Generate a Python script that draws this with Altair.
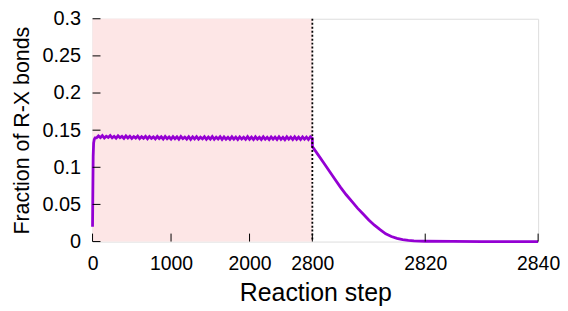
import altair as alt
import pandas as pd

# ---- data ----
early_steps = [0, 4, 8, 14, 22, 32]
early_vals = [0.020, 0.070, 0.115, 0.133, 0.1375, 0.1395]

plateau_steps = [
    50, 75, 100, 125, 150, 175, 200, 225, 250, 275,
    300, 325, 350, 375, 400, 425, 450, 475, 500, 525,
    550, 575, 600, 625, 650, 675, 700, 725, 750, 775,
    800, 825, 850, 875, 900, 925, 950, 975, 1000, 1025,
    1050, 1075, 1100, 1125, 1150, 1175, 1200, 1225, 1250, 1275,
    1300, 1325, 1350, 1375, 1400, 1425, 1450, 1475, 1500, 1525,
    1550, 1575, 1600, 1625, 1650, 1675, 1700, 1725, 1750, 1775,
    1800, 1825, 1850, 1875, 1900, 1925, 1950, 1975, 2000, 2025,
    2050, 2075, 2100, 2125, 2150, 2175, 2200, 2225, 2250, 2275,
    2300, 2325, 2350, 2375, 2400, 2425, 2450, 2475, 2500, 2525,
    2550, 2575, 2600, 2625, 2650, 2675, 2700, 2725, 2750, 2775,
    2800]
plateau_vals = [
    0.1395, 0.1422, 0.1400, 0.1426, 0.1394, 0.1419, 0.1402, 0.1428, 0.1397, 0.1418,
    0.1392, 0.1424, 0.1398, 0.1416, 0.1390, 0.1422, 0.1395, 0.1419, 0.1388, 0.1414,
    0.1392, 0.1420, 0.1386, 0.1413, 0.1391, 0.1417, 0.1384, 0.1415, 0.1389, 0.1410,
    0.1382, 0.1415, 0.1387, 0.1411, 0.1381, 0.1416, 0.1385, 0.1408, 0.1380, 0.1413,
    0.1383, 0.1409, 0.1378, 0.1414, 0.1385, 0.1407, 0.1380, 0.1412, 0.1376, 0.1409,
    0.1381, 0.1412, 0.1378, 0.1405, 0.1383, 0.1411, 0.1376, 0.1407, 0.1380, 0.1414,
    0.1377, 0.1406, 0.1381, 0.1411, 0.1375, 0.1408, 0.1379, 0.1405, 0.1376, 0.1410,
    0.1378, 0.1407, 0.1374, 0.1409, 0.1380, 0.1404, 0.1376, 0.1412, 0.1377, 0.1406,
    0.1374, 0.1410, 0.1379, 0.1405, 0.1375, 0.1410, 0.1377, 0.1403, 0.1373, 0.1409,
    0.1378, 0.1406, 0.1374, 0.1411, 0.1376, 0.1404, 0.1372, 0.1410, 0.1379, 0.1407,
    0.1374, 0.1410, 0.1377, 0.1405, 0.1373, 0.1409, 0.1378, 0.1406, 0.1374, 0.1411,
    0.1388]

decay_steps = [2800, 2801, 2802, 2803, 2804, 2805, 2806, 2807, 2808, 2809,
               2810, 2811, 2812, 2813, 2814, 2815, 2816, 2817, 2818, 2819,
               2820, 2825, 2830, 2835, 2840]
decay_vals = [0.128, 0.117, 0.106, 0.095, 0.084, 0.073, 0.063, 0.054, 0.045, 0.037,
              0.029, 0.022, 0.016, 0.0105, 0.0068, 0.0042, 0.0026, 0.0016, 0.0010, 0.0006,
              0.0004, 0.0001, 0.0, 0.0, 0.0]

x_ticks = [0, 1000, 2000, 2800, 2820, 2840]
y_ticks = [0, 0.05, 0.1, 0.15, 0.2, 0.25, 0.3]

BREAK_STEP = 2800
END_STEP = 2840
BREAK_FRAC = 221 / 448  # fraction of the axis used by 0..2800

W, H = 448, 224
FONT = "Liberation Sans"
PURPLE = "#9400d3"


def to_u(x):
    if x <= BREAK_STEP:
        return x / BREAK_STEP * BREAK_FRAC
    return BREAK_FRAC + (x - BREAK_STEP) / (END_STEP - BREAK_STEP) * (1 - BREAK_FRAC)


u_expr = (f"datum.step <= {BREAK_STEP} ? datum.step / {BREAK_STEP} * {BREAK_FRAC} : "
          f"{BREAK_FRAC} + (datum.step - {BREAK_STEP}) / {END_STEP - BREAK_STEP} * {1 - BREAK_FRAC}")

steps = early_steps + plateau_steps + decay_steps
vals = early_vals + plateau_vals + decay_vals
line_df = pd.DataFrame({"step": steps, "frac": vals, "order": list(range(len(steps)))})

shade_df = pd.DataFrame({"step": [0], "step_end": [BREAK_STEP]})
break_df = pd.DataFrame({"step": [BREAK_STEP]})
xt_df = pd.DataFrame({"step": x_ticks})
yt_df = pd.DataFrame({"frac": y_ticks})

x_scale = alt.Scale(domain=[0, 1], nice=False, zero=False)
y_scale = alt.Scale(domain=[0, 0.3], nice=False)

label_expr = (f"datum.value <= {BREAK_FRAC} + 1e-6 ? "
              f"format(round(datum.value / {BREAK_FRAC} * {BREAK_STEP}), 'd') : "
              f"format(round({BREAK_STEP} + (datum.value - {BREAK_FRAC}) / {1 - BREAK_FRAC} * {END_STEP - BREAK_STEP}), 'd')")

x_axis = alt.Axis(values=[to_u(v) for v in x_ticks], labelExpr=label_expr,
                  title="Reaction step", domain=False, ticks=False, grid=False,
                  labelOverlap=False, labelFlush=False,
                  labelFont=FONT, labelFontSize=19.5, labelColor="black", labelPadding=13,
                  titleFont=FONT, titleFontSize=25, titleFontWeight="normal", titleColor="black",
                  titlePadding=8)
y_axis = alt.Axis(values=y_ticks, labelExpr="format(datum.value, '~g')",
                  title="Fraction of R-X bonds",
                  domain=False, ticks=False, grid=False,
                  labelOverlap=False, labelFlush=False,
                  labelFont=FONT, labelFontSize=20, labelColor="black", labelPadding=12,
                  titleFont=FONT, titleFontSize=21.5, titleFontWeight="normal", titleColor="black",
                  titlePadding=8)

X = alt.X("u:Q", scale=x_scale, axis=x_axis)

shade = alt.Chart(shade_df).mark_rect(color="#fde6e6").transform_calculate(
    u=u_expr,
    u2=f"datum.step_end <= {BREAK_STEP} ? datum.step_end / {BREAK_STEP} * {BREAK_FRAC} : 1",
).encode(
    x=X,
    x2="u2:Q",
    y=alt.value(0),
    y2=alt.value(H),
)

line = alt.Chart(line_df).mark_line(color=PURPLE, strokeWidth=2.8).transform_calculate(
    u=u_expr
).encode(
    x=X,
    y=alt.Y("frac:Q", scale=y_scale, axis=y_axis),
    order="order:Q",
)

brk = alt.Chart(break_df).mark_rule(color="black", strokeWidth=1.8, strokeDash=[2, 2]).transform_calculate(
    u=u_expr
).encode(
    x=X,
    y=alt.value(0),
    y2=alt.value(H),
)

xticks = alt.Chart(xt_df).mark_rule(color="black", strokeWidth=1).transform_calculate(
    u=u_expr
).encode(
    x=X,
    y=alt.value(H),
    y2=alt.value(H - 8),
)

yticks = alt.Chart(yt_df).mark_rule(color="black", strokeWidth=1).encode(
    y=alt.Y("frac:Q", scale=y_scale, axis=y_axis),
    x=alt.value(0),
    x2=alt.value(8),
)

chart = alt.layer(shade, line, brk, xticks, yticks).properties(
    width=W, height=H,
    autosize=alt.AutoSizeParams(type="none"),
    padding={"left": 85, "top": 10, "right": 22, "bottom": 68},
).configure_view(
    stroke="black", strokeWidth=1.6
).configure(
    background="white"
)

chart.save("out.html", embed_options={"renderer": "svg", "actions": False})
